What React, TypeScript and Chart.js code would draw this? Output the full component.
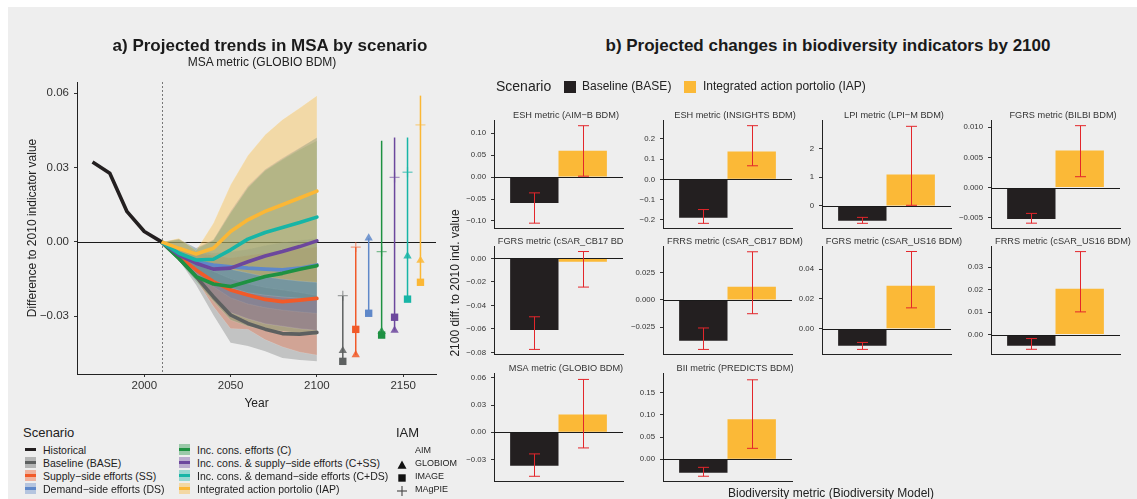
import React, { useEffect, useRef } from "react";
import { Chart, registerables } from "chart.js";

Chart.register(...registerables);

const FONT = "'Liberation Sans', Arial, Helvetica, sans-serif";
Chart.defaults.font.family = FONT;
Chart.defaults.color = "#333";

// ---------------- Panel a data ----------------
const histYears = [1970, 1980, 1990, 2000, 2010];
const histValues = [0.0322, 0.0277, 0.0122, 0.0042, 0.0];

const projYears = [2010, 2020, 2030, 2040, 2050, 2060, 2070, 2080, 2090, 2100];

const scenarioCodes = ["BASE", "SS", "DS", "C", "C+SS", "C+DS", "IAP"];

const meanBASE = [0, -0.0066, -0.014, -0.0221, -0.0295, -0.0329, -0.0352, -0.037, -0.0372, -0.0365];
const meanSS = [0, -0.0059, -0.0113, -0.016, -0.0194, -0.0214, -0.0232, -0.0241, -0.0235, -0.0228];
const meanDS = [0, -0.0046, -0.008, -0.0093, -0.01, -0.0106, -0.011, -0.0113, -0.0106, -0.0093];
const meanC = [0, -0.0066, -0.014, -0.017, -0.018, -0.016, -0.014, -0.0127, -0.011, -0.0096];
const meanCSS = [0, -0.0053, -0.0086, -0.011, -0.0106, -0.008, -0.0057, -0.0039, -0.0019, 0.0004];
const meanCDS = [0, -0.0046, -0.0073, -0.007, -0.0032, 0.0011, 0.0038, 0.0058, 0.0078, 0.01];
const meanIAP = [0, -0.0026, -0.0049, -0.0026, 0.0042, 0.0089, 0.0123, 0.015, 0.0177, 0.0205];

const upperBASE = [0, -0.004, -0.0085, -0.012, -0.015, -0.017, -0.0185, -0.0195, -0.0205, -0.0217];
const lowerBASE = [0, -0.0073, -0.0174, -0.0295, -0.0407, -0.042, -0.0441, -0.0468, -0.0477, -0.0482];
const upperSS = [0, -0.0025, -0.0045, -0.0055, -0.0065, -0.0055, -0.0045, -0.0035, -0.0028, -0.0021];
const lowerSS = [0, -0.0065, -0.015, -0.026, -0.0349, -0.0352, -0.0394, -0.0423, -0.0444, -0.0456];
const upperDS = [0, -0.002, -0.004, -0.0045, -0.004, -0.003, -0.0015, -0.0003, 0.0007, 0.0015];
const lowerDS = [0, -0.006, -0.0125, -0.018, -0.0225, -0.025, -0.0265, -0.0275, -0.0282, -0.0288];
const upperC = [0, 0.0012, -0.0025, 0.0005, 0.0116, 0.0217, 0.0287, 0.0331, 0.0372, 0.0408];
const lowerC = [0, -0.0075, -0.016, -0.024, -0.0315, -0.034, -0.0352, -0.036, -0.0368, -0.0376];
const upperCSS = [0, 0.0012, -0.0025, 0.001, 0.0125, 0.0225, 0.0293, 0.0338, 0.038, 0.0421];
const lowerCSS = [0, -0.007, -0.015, -0.022, -0.0285, -0.031, -0.033, -0.034, -0.035, -0.0357];
const upperCDS = [0, 0.001, -0.003, 0.0008, 0.012, 0.022, 0.029, 0.0335, 0.0378, 0.0421];
const lowerCDS = [0, -0.006, -0.0115, -0.0155, -0.0185, -0.0205, -0.0215, -0.0222, -0.0227, -0.0231];
const upperIAP = [0, 0.0015, -0.0035, 0.0075, 0.023, 0.0348, 0.0432, 0.0493, 0.054, 0.059];
const lowerIAP = [0, -0.005, -0.008, -0.0095, -0.011, -0.0125, -0.014, -0.015, -0.0158, -0.0163];

// 2100 values per IAM, drawn to the right of the trends
const rangeYears = [2115, 2122.5, 2130, 2137.5, 2145, 2152.5, 2160];
const rangeHigh = [-0.0217, -0.0021, 0.0015, 0.0408, 0.0421, 0.0421, 0.059];
const rangeLow = [-0.0482, -0.0456, -0.0288, -0.0376, -0.0357, -0.0231, -0.0163];
const globiom2100 = [-0.0439, -0.0456, 0.0015, -0.0362, -0.0357, -0.0057, -0.0075];
const image2100 = [-0.0482, -0.0353, -0.0288, -0.0376, -0.0304, -0.0231, -0.0163];
const magpie2100 = [-0.0217, -0.0021, null, -0.0039, 0.026, 0.0281, 0.0472];

const xTicksA = [2000, 2050, 2100, 2150];
const yTicksA = [-0.03, 0, 0.03, 0.06];

// ---------------- Panel b data ----------------
const facetTitles = [
  "ESH metric (AIM−B BDM)",
  "ESH metric (INSIGHTS BDM)",
  "LPI metric (LPI−M BDM)",
  "FGRS metric (BILBI BDM)",
  "FGRS metric (cSAR_CB17 BDM)",
  "FRRS metric (cSAR_CB17 BDM)",
  "FGRS metric (cSAR_US16 BDM)",
  "FRRS metric (cSAR_US16 BDM)",
  "MSA metric (GLOBIO BDM)",
  "BII metric (PREDICTS BDM)",
];
const baseValues = [-0.059, -0.19, -0.517, -0.00521, -0.061, -0.0376, -0.0116, -0.005, -0.0369, -0.03];
const baseLow = [-0.105, -0.217, -0.607, -0.0059, -0.0775, -0.0455, -0.014, -0.0066, -0.0485, -0.038];
const baseHigh = [-0.036, -0.149, -0.4, -0.00428, -0.0497, -0.0258, -0.0093, -0.0018, -0.0238, -0.018];
const iapValues = [0.06, 0.137, 1.09, 0.00613, -0.0029, 0.0121, 0.0289, 0.0204, 0.0197, 0.0903];
const iapLow = [0.002, 0.067, 0.02, 0.0018, -0.0244, -0.0127, 0.014, 0.0101, -0.0172, 0.0247];
const iapHigh = [0.117, 0.265, 2.77, 0.01026, 0.0059, 0.0442, 0.052, 0.037, 0.0584, 0.1787];
const facetYMin = [-0.116, -0.24, -0.77, -0.0067, -0.0814, -0.0497, -0.0171, -0.0087, -0.0537, -0.0487];
const facetYMax = [0.13, 0.293, 2.99, 0.0112, 0.0106, 0.0495, 0.0557, 0.0395, 0.0655, 0.194];
const facetTicks = [
  [-0.1, -0.05, 0, 0.05, 0.1],
  [-0.2, -0.1, 0, 0.1, 0.2],
  [0, 1, 2],
  [-0.005, 0, 0.005, 0.01],
  [-0.08, -0.06, -0.04, -0.02, 0],
  [-0.025, 0, 0.025],
  [0, 0.02, 0.04],
  [0, 0.01, 0.02, 0.03],
  [-0.03, 0, 0.03, 0.06],
  [0, 0.05, 0.1, 0.15],
];
const facetDecimals = [2, 1, 0, 3, 2, 3, 2, 2, 2, 2];

// ---------------- Styles / layout ----------------
const scenarioColors = ["#5d6060", "#f15a29", "#5f88c9", "#1e9142", "#6c479d", "#17b5a6", "#fbb735"];
const bandAlphas = [0.3, 0.3, 0.28, 0.22, 0.28, 0.22, 0.38];
const histColor = "#231f20";
const baseBarColor = "#231f20";
const iapBarColor = "#fbb937";
const errColor = "#e3262b";

const facetColX = [494, 663, 822, 991];
const facetRowY = [120, 246, 373];
const facetW = 129;
const facetH = 108;

function alpha(hex: string, a: number) {
  const n = parseInt(hex.slice(1), 16);
  return `rgba(${(n >> 16) & 255},${(n >> 8) & 255},${n & 255},${a})`;
}
function fmt(v: number, d: number) {
  const s = Math.abs(v).toFixed(d);
  return v < -1e-12 ? "\u2212" + s : s;
}

const scenarioMeans = [meanBASE, meanSS, meanDS, meanC, meanCSS, meanCDS, meanIAP];
const scenarioUpper = [upperBASE, upperSS, upperDS, upperC, upperCSS, upperCDS, upperIAP];
const scenarioLower = [lowerBASE, lowerSS, lowerDS, lowerC, lowerCSS, lowerCDS, lowerIAP];

const guidesA = {
  id: "guidesA",
  beforeDatasetsDraw(chart: any) {
    const { ctx, chartArea: ca, scales } = chart;
    const y0 = Math.round(scales.y.getPixelForValue(0)) + 0.5;
    const xv = Math.round(scales.x.getPixelForValue(2010)) + 0.5;
    ctx.save();
    ctx.strokeStyle = "#1a1a1a";
    ctx.lineWidth = 1;
    ctx.beginPath();
    ctx.moveTo(ca.left, y0);
    ctx.lineTo(ca.right, y0);
    ctx.stroke();
    ctx.setLineDash([2, 2]);
    ctx.strokeStyle = "#777";
    ctx.beginPath();
    ctx.moveTo(xv, ca.top);
    ctx.lineTo(xv, ca.bottom);
    ctx.stroke();
    ctx.restore();
  },
};

function PanelA() {
  const ref = useRef<HTMLCanvasElement>(null);
  useEffect(() => {
    const datasets: any[] = [];
    scenarioCodes.forEach((code, s) => {
      const idx = datasets.length;
      datasets.push({
        label: code + " max",
        data: projYears.map((x, k) => ({ x, y: scenarioUpper[s][k] })),
        borderWidth: 0.6,
        borderColor: "rgba(255,255,255,0.25)",
        pointRadius: 0,
        fill: idx + 1,
        backgroundColor: alpha(scenarioColors[s], bandAlphas[s]),
        order: 200 - s,
      });
      datasets.push({
        label: code + " min",
        data: projYears.map((x, k) => ({ x, y: scenarioLower[s][k] })),
        borderWidth: 0.6,
        borderColor: "rgba(255,255,255,0.25)",
        pointRadius: 0,
        fill: false,
        order: 200 - s,
      });
    });
    scenarioCodes.forEach((code, s) => {
      datasets.push({
        label: code,
        data: projYears.map((x, k) => ({ x, y: scenarioMeans[s][k] })),
        borderColor: scenarioColors[s],
        borderWidth: 3.6,
        pointRadius: 0,
        fill: false,
        borderJoinStyle: "round",
        borderCapStyle: "round",
        order: 10 - s,
      });
      datasets.push({
        label: code + " 2100 range",
        data: [
          { x: rangeYears[s], y: rangeLow[s] },
          { x: rangeYears[s], y: rangeHigh[s] },
        ],
        borderColor: scenarioColors[s],
        borderWidth: 1.5,
        pointRadius: 0,
        fill: false,
        order: 3,
      });
    });
    datasets.push({
      label: "Historical",
      data: histYears.map((x, k) => ({ x, y: histValues[k] })),
      borderColor: histColor,
      borderWidth: 3.6,
      pointRadius: 0,
      fill: false,
      borderJoinStyle: "round",
      order: 1,
    });
    datasets.push({
      label: "GLOBIOM",
      data: rangeYears.map((x, s) => ({ x, y: globiom2100[s] })),
      showLine: false,
      pointStyle: "triangle",
      pointRadius: 4.8,
      pointBorderWidth: 0,
      pointBackgroundColor: scenarioColors.map((c) => alpha(c, 0.85)),
      order: 2,
    });
    datasets.push({
      label: "IMAGE",
      data: rangeYears.map((x, s) => ({ x, y: image2100[s] })),
      showLine: false,
      pointStyle: "rect",
      pointRadius: 5.2,
      pointBorderWidth: 0,
      pointBackgroundColor: scenarioColors,
      order: 2,
    });
    datasets.push({
      label: "MAgPIE",
      data: rangeYears.map((x, s) => ({ x, y: magpie2100[s] })),
      showLine: false,
      pointStyle: "cross",
      pointRadius: 5,
      pointBorderWidth: 1.3,
      pointBorderColor: scenarioColors.map((c) => alpha(c, 0.55)),
      order: 2,
    });

    const chart = new Chart(ref.current as HTMLCanvasElement, {
      type: "line",
      data: { datasets },
      options: {
        responsive: false,
        animation: false,
        events: [],
        layout: { padding: { left: 25, top: 82, right: 14, bottom: 6 } },
        plugins: {
          legend: { display: false },
          tooltip: { enabled: false },
        },
        scales: {
          x: {
            type: "linear",
            min: 1961,
            max: 2169,
            afterBuildTicks: (sc: any) => {
              sc.ticks = xTicksA.map((v) => ({ value: v }));
            },
            afterFit: (sc: any) => {
              sc.height = 40;
            },
            ticks: {
              callback: (v: any) => String(v),
              font: { family: FONT, size: 11.5 },
              color: "#333",
              padding: 2,
              maxRotation: 0,
              autoSkip: false,
            },
            grid: { display: true, drawOnChartArea: false, drawTicks: true, tickLength: 3, color: "#333" },
            border: { display: true, color: "#222", width: 1 },
            title: {
              display: true,
              text: "Year",
              font: { family: FONT, size: 12 },
              color: "#222",
              padding: { top: 0, bottom: 2.8 },
            },
          },
          y: {
            type: "linear",
            min: -0.0533,
            max: 0.0645,
            afterBuildTicks: (sc: any) => {
              sc.ticks = yTicksA.map((v) => ({ value: v }));
            },
            afterFit: (sc: any) => {
              sc.width = 52;
            },
            ticks: {
              callback: (v: any) => fmt(Number(v), 2),
              font: { family: FONT, size: 11.5 },
              color: "#333",
              padding: 5,
              autoSkip: false,
            },
            grid: { display: true, drawOnChartArea: false, drawTicks: true, tickLength: 3, color: "#333" },
            border: { display: true, color: "#222", width: 1 },
            title: {
              display: true,
              text: "Difference to 2010 indicator value",
              font: { family: FONT, size: 12 },
              color: "#222",
              padding: { top: 0, bottom: 0 },
            },
          },
        },
      } as any,
      plugins: [guidesA],
    });
    return () => chart.destroy();
  }, []);
  return (
    <canvas
      ref={ref}
      width={450}
      height={420}
      style={{ position: "absolute", left: 0, top: 0, width: 450, height: 420 }}
    />
  );
}

function Facet({ i }: { i: number }) {
  const ref = useRef<HTMLCanvasElement>(null);
  const col = i % 4;
  const row = Math.floor(i / 4);
  const padTop = 18;
  const padBottom = 10;
  const padRight = 16;
  const axisW = 60;
  const left = facetColX[col] - axisW;
  const top = facetRowY[row] - padTop;
  const width = axisW + facetW + padRight;
  const height = padTop + facetH + padBottom;
  const clipTitle = i === 4;

  useEffect(() => {
    const deco = {
      id: "facetDeco",
      afterDatasetsDraw(chart: any) {
        const { ctx, chartArea: ca, scales } = chart;
        const y = scales.y;
        const y0 = Math.round(y.getPixelForValue(0)) + 0.5;
        ctx.save();
        ctx.strokeStyle = "#1a1a1a";
        ctx.lineWidth = 1;
        ctx.beginPath();
        ctx.moveTo(ca.left, y0);
        ctx.lineTo(ca.right, y0);
        ctx.stroke();
        chart.data.datasets.forEach((ds: any, di: number) => {
          const bar = chart.getDatasetMeta(di).data[0];
          if (!bar) return;
          const x = Math.round(bar.x) + 0.5;
          const lo = y.getPixelForValue(ds.errLo);
          const hi = y.getPixelForValue(ds.errHi);
          ctx.strokeStyle = errColor;
          ctx.lineWidth = 1;
          ctx.beginPath();
          ctx.moveTo(x, lo);
          ctx.lineTo(x, hi);
          ctx.moveTo(x - 5.5, lo);
          ctx.lineTo(x + 5.5, lo);
          ctx.moveTo(x - 5.5, hi);
          ctx.lineTo(x + 5.5, hi);
          ctx.stroke();
        });
        ctx.restore();
      },
      afterDraw(chart: any) {
        const { ctx, chartArea: ca } = chart;
        ctx.save();
        if (clipTitle) {
          ctx.beginPath();
          ctx.rect(0, 0, ca.right, chart.height);
          ctx.clip();
        }
        ctx.font = `9.2px ${FONT}`;
        ctx.fillStyle = "#333";
        ctx.textAlign = "center";
        ctx.textBaseline = "middle";
        ctx.fillText(facetTitles[i], (ca.left + ca.right) / 2 + 7.5, ca.top - 4.5);
        ctx.restore();
      },
    };
    const chart = new Chart(ref.current as HTMLCanvasElement, {
      type: "bar",
      data: {
        labels: [""],
        datasets: [
          {
            label: "Baseline (BASE)",
            data: [baseValues[i]],
            backgroundColor: baseBarColor,
            borderWidth: 0,
            categoryPercentage: 0.75,
            barPercentage: 1,
            errLo: baseLow[i],
            errHi: baseHigh[i],
          },
          {
            label: "Integrated action portolio (IAP)",
            data: [iapValues[i]],
            backgroundColor: iapBarColor,
            borderWidth: 0,
            categoryPercentage: 0.75,
            barPercentage: 1,
            errLo: iapLow[i],
            errHi: iapHigh[i],
          },
        ] as any,
      },
      options: {
        responsive: false,
        animation: false,
        events: [],
        layout: { padding: { left: 0, top: padTop, right: padRight, bottom: padBottom } },
        plugins: { legend: { display: false }, tooltip: { enabled: false } },
        scales: {
          x: {
            type: "category",
            ticks: { display: false },
            grid: { display: false, drawTicks: false },
            border: { display: true, color: "#222", width: 1 },
            afterFit: (sc: any) => {
              sc.height = 0;
            },
          },
          y: {
            type: "linear",
            min: facetYMin[i],
            max: facetYMax[i],
            afterBuildTicks: (sc: any) => {
              sc.ticks = facetTicks[i].map((v) => ({ value: v }));
            },
            afterFit: (sc: any) => {
              sc.width = axisW;
            },
            ticks: {
              callback: (v: any) => fmt(Number(v), facetDecimals[i]),
              font: { family: FONT, size: 7.8 },
              color: "#333",
              padding: 5,
              autoSkip: false,
            },
            grid: { display: true, drawOnChartArea: false, drawTicks: true, tickLength: 3, color: "#333" },
            border: { display: true, color: "#222", width: 1 },
          },
        },
      } as any,
      plugins: [deco],
    });
    return () => chart.destroy();
  }, [i]);

  return (
    <canvas
      ref={ref}
      width={width}
      height={height}
      style={{ position: "absolute", left, top, width, height }}
    />
  );
}

function Txt(props: {
  x: number;
  y: number;
  text: string;
  size: number;
  bold?: boolean;
  anchor?: "start" | "middle";
  rotate?: number;
  color?: string;
}) {
  const { x, y, text, size, bold, anchor = "middle", rotate = 0, color = "#222" } = props;
  const tx = anchor === "middle" ? "-50%" : "0";
  return (
    <div
      style={{
        position: "absolute",
        left: x,
        top: y,
        transform: `translate(${tx}, -50%) rotate(${rotate}deg)`,
        transformOrigin: anchor === "middle" ? "50% 50%" : "0 50%",
        fontSize: size,
        fontWeight: bold ? 700 : 400,
        fontFamily: FONT,
        whiteSpace: "nowrap",
        lineHeight: 1,
        color,
      }}
    >
      {text}
    </div>
  );
}

const legendRowsY = [449.5, 462.5, 475.5, 488.5];
const legendEntries = [
  { label: "Historical", color: histColor, band: false },
  { label: "Baseline (BASE)", color: scenarioColors[0], band: true },
  { label: "Supply\u2212side efforts (SS)", color: scenarioColors[1], band: true },
  { label: "Demand\u2212side efforts (DS)", color: scenarioColors[2], band: true },
  { label: "Inc. cons. efforts (C)", color: scenarioColors[3], band: true },
  { label: "Inc. cons. & supply\u2212side efforts (C+SS)", color: scenarioColors[4], band: true },
  { label: "Inc. cons. & demand\u2212side efforts (C+DS)", color: scenarioColors[5], band: true },
  { label: "Integrated action portolio (IAP)", color: scenarioColors[6], band: true },
];
const iamNames = ["AIM", "GLOBIOM", "IMAGE", "MAgPIE"];

function IamMarker({ kind }: { kind: number }) {
  return (
    <svg width={12} height={12} viewBox="0 0 12 12">
      {kind === 1 && <polygon points="6,1.5 10.5,9.8 1.5,9.8" fill="#111" />}
      {kind === 2 && <rect x={2.3} y={2.3} width={7.4} height={7.4} fill="#111" />}
      {kind === 3 && (
        <g stroke="#444" strokeWidth={1.1}>
          <line x1={1} y1={6} x2={11} y2={6} />
          <line x1={6} y1={1} x2={6} y2={11} />
        </g>
      )}
    </svg>
  );
}

export default function App() {
  return (
    <div
      style={{
        position: "absolute",
        left: 0,
        top: 0,
        width: 1137,
        height: 499,
        background: "#ffffff",
        overflow: "hidden",
      }}
    >
      <div style={{ position: "absolute", left: 8, top: 7, right: 0, bottom: 0, background: "#eeeeee" }} />

      <PanelA />
      {facetTitles.map((_, i) => (
        <Facet key={i} i={i} />
      ))}

      {/* Panel titles */}
      <Txt x={270} y={45} text="a) Projected trends in MSA by scenario" size={17} bold color="#1a1a1a" />
      <Txt x={262} y={61.5} text="MSA metric (GLOBIO BDM)" size={12} color="#222" />
      <Txt x={828} y={45} text="b) Projected changes in biodiversity indicators by 2100" size={17} bold color="#1a1a1a" />

      {/* Panel b legend */}
      <Txt x={496} y={86} text="Scenario" size={14} anchor="start" />
      <div style={{ position: "absolute", left: 564, top: 80.5, width: 12, height: 12, background: baseBarColor }} />
      <Txt x={582} y={86} text="Baseline (BASE)" size={12} anchor="start" />
      <div style={{ position: "absolute", left: 684, top: 80.5, width: 12, height: 12, background: iapBarColor }} />
      <Txt x={703} y={86} text="Integrated action portolio (IAP)" size={12} anchor="start" />

      {/* Panel b axis titles */}
      <Txt x={455} y={283} text="2100 diff. to 2010 ind. value" size={12} rotate={-90} />
      <Txt x={831} y={493} text="Biodiversity metric (Biodiversity Model)" size={12} />

      {/* Panel a legend */}
      <Txt x={23} y={432} text="Scenario" size={13} anchor="start" />
      {legendEntries.map((e, k) => {
        const colIdx = k < 4 ? 0 : 1;
        const rowIdx = k % 4;
        const keyX = colIdx === 0 ? 25 : 179;
        const textX = colIdx === 0 ? 43 : 197;
        const cy = legendRowsY[rowIdx];
        return (
          <React.Fragment key={k}>
            {e.band && (
              <div
                style={{
                  position: "absolute",
                  left: keyX,
                  top: cy - 5.5,
                  width: 11,
                  height: 11,
                  background: alpha(e.color, 0.4),
                }}
              />
            )}
            <div
              style={{
                position: "absolute",
                left: keyX,
                top: cy - 1.5,
                width: 11,
                height: 3,
                background: e.color,
              }}
            />
            <Txt x={textX} y={cy} text={e.label} size={10.5} anchor="start" />
          </React.Fragment>
        );
      })}

      <Txt x={396} y={432} text="IAM" size={13} anchor="start" />
      {iamNames.map((n, k) => (
        <React.Fragment key={n}>
          <div style={{ position: "absolute", left: 396, top: legendRowsY[k] - 6 }}>
            <IamMarker kind={k} />
          </div>
          <Txt x={415} y={legendRowsY[k]} text={n} size={9} anchor="start" />
        </React.Fragment>
      ))}
    </div>
  );
}
